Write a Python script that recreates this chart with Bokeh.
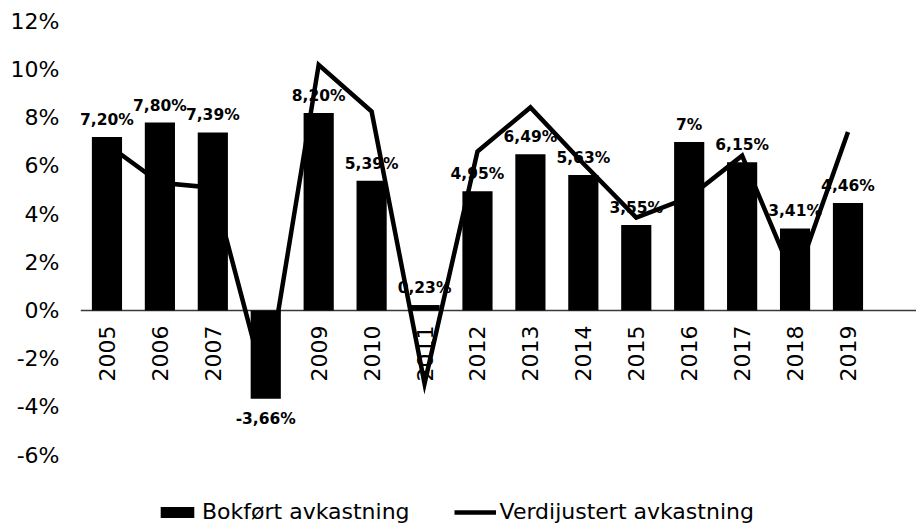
import math
from bokeh.plotting import figure
from bokeh.models import Span, Legend, LegendItem, FixedTicker, PrintfTickFormatter
from bokeh.core.properties import value
from bokeh.embed import file_html
from bokeh.resources import INLINE

# ---- data ----
years = [2005, 2006, 2007, 2008, 2009, 2010, 2011, 2012, 2013, 2014, 2015, 2016, 2017, 2018, 2019]
bokfort = [7.20, 7.80, 7.39, -3.66, 8.20, 5.39, 0.23, 4.95, 6.49, 5.63, 3.55, 7, 6.15, 3.41, 4.46]
verdijustert = [6.9, 5.3, 5.1, -3.2, 10.2, 8.26, -3.03, 6.6, 8.43, 6.1, 3.86, 4.7, 6.43, 1.2, 7.41]
y_ticks = [-6, -4, -2, 0, 2, 4, 6, 8, 10, 12]
series_names = ["Bokført avkastning", "Verdijustert avkastning"]


def fmt(v):
    if float(v).is_integer():
        return f"{int(v)}%"
    return f"{v:.2f}".replace(".", ",") + "%"


bar_labels = [fmt(v) for v in bokfort]
year_labels = [str(y) for y in years]

# ---- layout ----
W, H = 916, 526
B_LEFT, B_TOP = 80, 11
PX_PER_CAT = 52.93
PX_PER_PCT = 24.1
frame_w = W - B_LEFT
frame_h = H - B_TOP
x_start = years[0] - 0.5
x_end = x_start + frame_w / PX_PER_CAT
y_top = 12.41
y_bottom = y_top - frame_h / PX_PER_PCT

FONT = "DejaVu Sans"

p = figure(width=W, height=H, x_range=(x_start, x_end), y_range=(y_bottom, y_top),
           output_backend="svg", toolbar_location=None, x_axis_location=None,
           min_border_left=B_LEFT, min_border_right=0, min_border_top=B_TOP, min_border_bottom=0)
p.xgrid.visible = False
p.ygrid.visible = False
p.outline_line_color = None
p.background_fill_color = "white"
p.border_fill_color = "white"

ax = p.yaxis[0]
ax.ticker = FixedTicker(ticks=y_ticks)
ax.formatter = PrintfTickFormatter(format="%d%%")
ax.axis_line_color = None
ax.major_tick_line_color = None
ax.minor_tick_line_color = None
ax.major_label_standoff = 15
ax.major_label_text_font = FONT
ax.major_label_text_font_size = "22px"
ax.major_label_text_color = "black"

zero = Span(location=0, dimension="width", line_color="#3a3a3a", line_width=1.5, level="underlay")
p.add_layout(zero)

# category labels (drawn beneath the bars)
p.text(x=years, y=[0] * len(years), text=year_labels, angle=math.pi / 2,
       text_align="right", text_baseline="middle", y_offset=15,
       text_font=value(FONT), text_font_size="22px", text_color="black")

bars = p.vbar(x=years, top=bokfort, bottom=0, width=0.57, fill_color="black", line_color=None)

offsets = [-17 if v >= 0 else 20 for v in bokfort]
p.text(x=years, y=bokfort, text=bar_labels, y_offset=offsets,
       text_align="center", text_baseline="middle",
       text_font=value(FONT), text_font_style="bold", text_font_size="15.5px", text_color="black")

line = p.line(years, verdijustert, line_color="black", line_width=4.5, line_join="miter")

legend = Legend(items=[LegendItem(label=series_names[0], renderers=[bars]),
                       LegendItem(label=series_names[1], renderers=[line])],
                location=(76, 2), orientation="horizontal",
                border_line_color=None, background_fill_alpha=0,
                padding=0, margin=0, spacing=44,
                glyph_width=42, glyph_height=14, label_standoff=4,
                label_text_font=FONT, label_text_font_size="22px", label_text_color="black")
p.add_layout(legend)

open("out.html", "w").write(file_html(p, INLINE))
